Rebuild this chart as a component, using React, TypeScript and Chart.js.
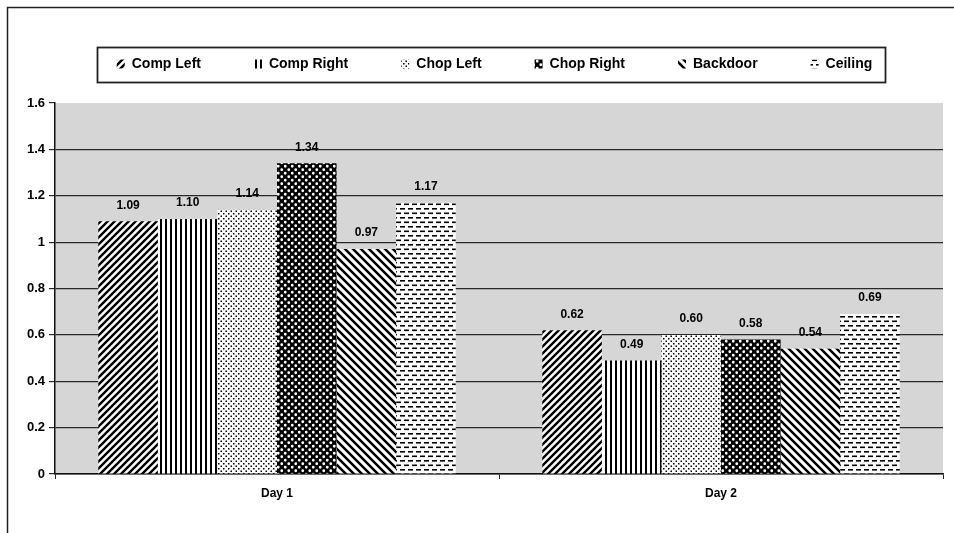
import React, { useEffect, useRef } from 'react';
import { Chart, registerables } from 'chart.js';

Chart.register(...registerables);

const categories = ['Day 1', 'Day 2'];
const seriesNames = ['Comp Left', 'Comp Right', 'Chop Left', 'Chop Right', 'Backdoor', 'Ceiling'];
const compLeft = [1.09, 0.62];
const compRight = [1.1, 0.49];
const chopLeft = [1.14, 0.6];
const chopRight = [1.34, 0.58];
const backdoor = [0.97, 0.54];
const ceiling = [1.17, 0.69];
const yMin = 0;
const yMax = 1.6;
const yStep = 0.2;

function makeTile(w: number, h: number, draw: (c: CanvasRenderingContext2D) => void) {
  const cv = document.createElement('canvas');
  cv.width = w;
  cv.height = h;
  const c = cv.getContext('2d')!;
  c.fillStyle = '#ffffff';
  c.fillRect(0, 0, w, h);
  draw(c);
  return cv;
}

function makePatterns(ctx: CanvasRenderingContext2D) {
  const diagUp = makeTile(7, 7, (c) => {
    c.strokeStyle = '#000';
    c.lineWidth = 2.4;
    c.beginPath();
    c.moveTo(-1, 8); c.lineTo(8, -1);
    c.moveTo(-1, 1); c.lineTo(1, -1);
    c.moveTo(6, 8); c.lineTo(8, 6);
    c.stroke();
  });
  const vert = makeTile(5, 4, (c) => {
    c.fillStyle = '#000';
    c.fillRect(0, 0, 2, 4);
  });
  const dots = makeTile(5, 5, (c) => {
    c.fillStyle = '#000';
    c.fillRect(0.5, 0.5, 1.5, 1.5);
    c.fillRect(3, 3, 1.5, 1.5);
  });
  const holes = makeTile(7, 7, (c) => {
    c.fillStyle = '#000';
    c.fillRect(0, 0, 7, 7);
    c.fillStyle = '#fff';
    c.beginPath();
    c.arc(1.75, 1.75, 1.4, 0, Math.PI * 2);
    c.closePath();
    c.moveTo(5.25 + 1.4, 5.25);
    c.arc(5.25, 5.25, 1.4, 0, Math.PI * 2);
    c.fill();
  });
  const diagDown = makeTile(8, 8, (c) => {
    c.strokeStyle = '#000';
    c.lineWidth = 2.5;
    c.beginPath();
    c.moveTo(-1, -1); c.lineTo(9, 9);
    c.moveTo(7, -1); c.lineTo(9, 1);
    c.moveTo(-1, 7); c.lineTo(1, 9);
    c.stroke();
  });
  const dashes = makeTile(8, 9, (c) => {
    c.fillStyle = '#000';
    c.fillRect(0, 1, 5, 1.6);
    c.fillRect(4, 5.5, 4, 1.6);
    c.fillRect(0, 5.5, 1, 1.6);
  });
  return [diagUp, vert, dots, holes, diagDown, dashes].map((t) => ctx.createPattern(t, 'repeat')!);
}

const near = (a: number, b: number) => Math.abs(a - b) < 1e-6;

export default function App() {
  const ref = useRef<HTMLCanvasElement | null>(null);

  useEffect(() => {
    const canvas = ref.current!;
    const ctx = canvas.getContext('2d')!;
    Chart.defaults.font.family = "'Liberation Sans', Arial, sans-serif";
    const patterns = makePatterns(ctx);
    const values = [compLeft, compRight, chopLeft, chopRight, backdoor, ceiling];

    const bgPlugin = {
      id: 'bgPlugin',
      beforeInit(chart: any) {
        const legend = chart.legend;
        if (legend) {
          const orig = legend.fit;
          legend.fit = function () {
            orig.call(this);
            this.height = 99;
          };
        }
      },
      afterLayout(chart: any) {
        const legend = chart.legend;
        if (legend) {
          legend.left += 19;
          legend.right += 19;
        }
      },
      beforeDraw(chart: any) {
        const { ctx: c, chartArea: a } = chart;
        c.save();
        c.fillStyle = '#ffffff';
        c.fillRect(0, 0, chart.width, chart.height);
        c.fillStyle = '#d6d6d6';
        c.fillRect(a.left, a.top, a.right - a.left, a.bottom - a.top);
        c.strokeStyle = '#222';
        c.lineWidth = 1.5;
        c.beginPath();
        c.moveTo(7.5, chart.height);
        c.lineTo(7.5, 7.5);
        c.lineTo(chart.width, 7.5);
        c.stroke();
        c.restore();
      },
      afterDatasetsDraw(chart: any) {
        const c = chart.ctx;
        c.save();
        c.fillStyle = '#000';
        c.font = "bold 12px 'Liberation Sans', Arial, sans-serif";
        c.textAlign = 'center';
        c.textBaseline = 'middle';
        chart.data.datasets.forEach((ds: any, i: number) => {
          const meta = chart.getDatasetMeta(i);
          meta.data.forEach((el: any, j: number) => {
            c.fillText(Number(ds.data[j]).toFixed(2), el.x, el.y - 16);
          });
        });
        c.restore();
      },
      afterDraw(chart: any) {
        const legend = chart.legend;
        if (!legend || !legend.legendHitBoxes || !legend.legendHitBoxes.length) return;
        const hb = legend.legendHitBoxes;
        const first = hb[0];
        const last = hb[hb.length - 1];
        const c = chart.ctx;
        c.save();
        c.strokeStyle = '#222';
        c.lineWidth = 1.8;
        const x0 = Math.round(first.left - 20) + 0.5;
        const x1 = Math.round(last.left + last.width + 13) + 0.5;
        const y0 = Math.round(first.top - 10) + 0.5;
        const y1 = Math.round(first.top + first.height + 11) + 0.5;
        c.strokeRect(x0, y0, x1 - x0, y1 - y0);
        c.restore();
      },
    };

    const chart = new Chart(canvas, {
      type: 'bar',
      data: {
        labels: categories,
        datasets: seriesNames.map((name, i) => ({
          label: name,
          data: values[i],
          backgroundColor: patterns[i] as any,
          borderWidth: 0,
          barPercentage: 1,
          categoryPercentage: 0.805,
        })),
      },
      options: {
        responsive: false,
        animation: false,
        devicePixelRatio: 1,
        layout: { padding: { top: 4, left: 8, right: 11, bottom: 0 } },
        plugins: {
          legend: {
            position: 'top',
            labels: {
              boxWidth: 8,
              boxHeight: 9,
              padding: 53,
              color: '#000',
              font: { size: 14, weight: 'bold' },
            },
          },
          tooltip: { enabled: false },
          title: { display: false },
        },
        scales: {
          x: {
            grid: { display: true, drawOnChartArea: false, drawTicks: true, tickLength: 5, color: '#222' },
            border: { display: true, color: '#111', width: 1.5 },
            ticks: { color: '#000', font: { size: 12, weight: 'bold' }, padding: 7 },
            afterFit(s: any) { s.height = 59; },
          },
          y: {
            min: yMin,
            max: yMax,
            ticks: {
              stepSize: yStep,
              color: '#000',
              font: { size: 13, weight: 'bold' },
              padding: 4,
              callback: (v: any) => String(Number(Number(v).toFixed(1))),
            },
            grid: {
              color: (c: any) => (c.tick && near(c.tick.value, yMax) ? 'rgba(0,0,0,0)' : '#2a2a2a'),
              tickColor: '#2a2a2a',
              tickLength: 6,
              lineWidth: 1.2,
            },
            border: { display: true, color: '#111', width: 1.5 },
            afterFit(s: any) { s.width = 47; },
          },
        },
      } as any,
      plugins: [bgPlugin as any],
    });
    return () => chart.destroy();
  }, []);

  return (
    <div style={{ position: 'fixed', left: 0, top: 0, width: 954, height: 533, background: '#fff' }}>
      <canvas ref={ref} width={954} height={533} style={{ display: 'block' }} />
    </div>
  );
}
